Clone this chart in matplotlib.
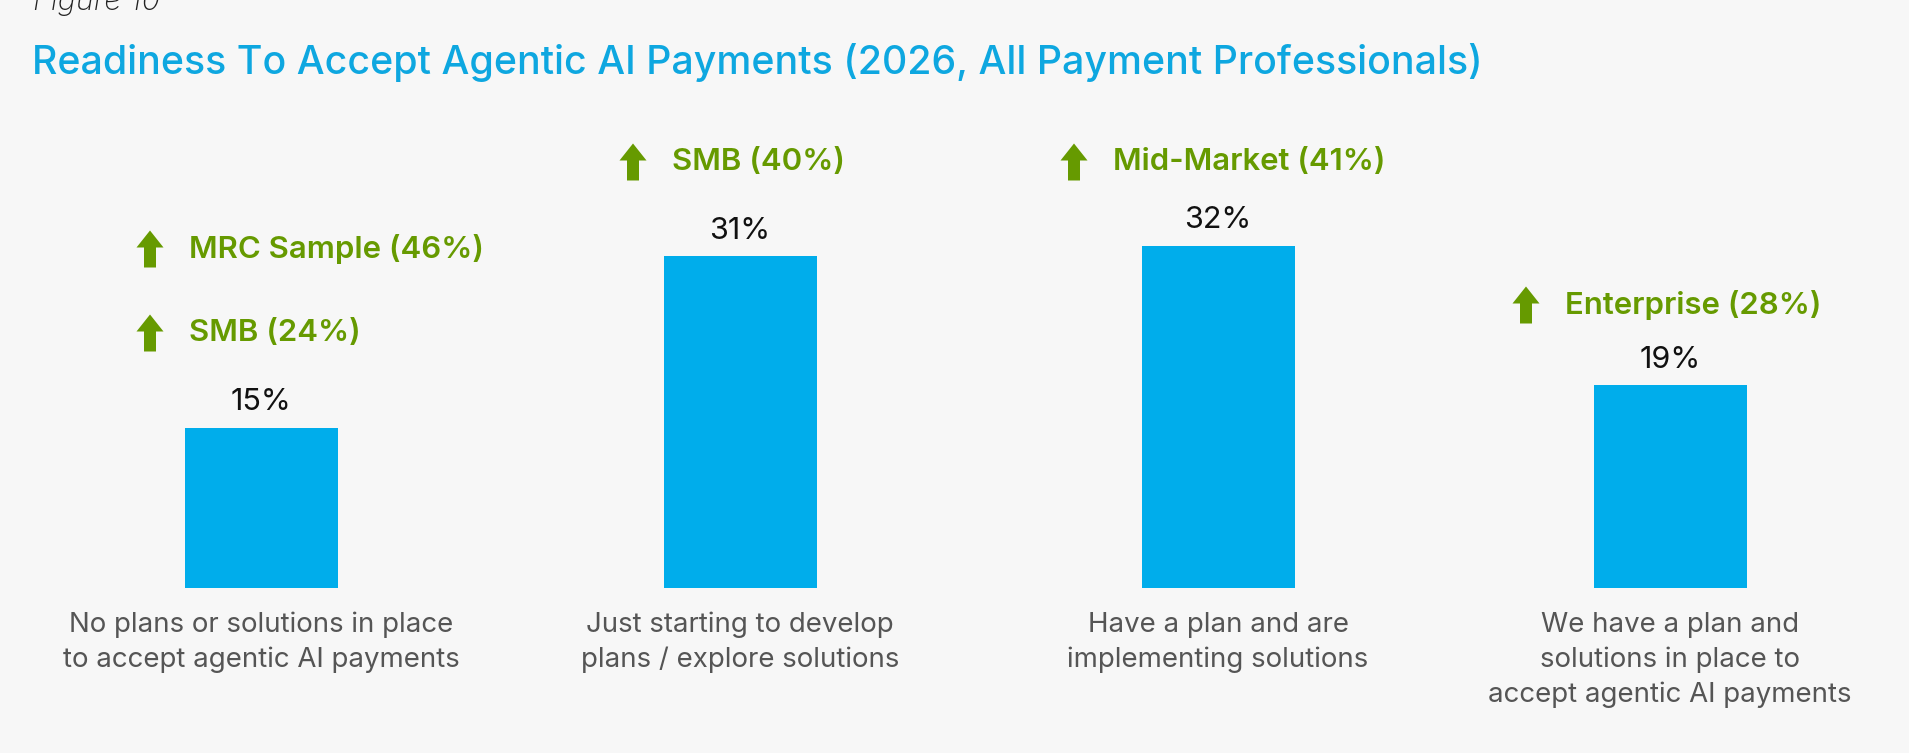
"""
Readiness to accept agentic AI payments, 2026 -- bar chart with
green "up" callouts for the segments that over-index.
"""

import matplotlib
matplotlib.use('Agg')
import matplotlib.pyplot as plt
from matplotlib.patches import Polygon

# ---- data -------------------------------------------------------------
categories = [
    'No plans or solutions in place\nto accept agentic AI payments',
    'Just starting to develop\nplans / explore solutions',
    'Have a plan and are\nimplementing solutions',
    'We have a plan and\nsolutions in place to\naccept agentic AI payments',
]
shares = [15, 31, 32, 19]

callout_segments = ['MRC Sample', 'SMB', 'SMB', 'Mid-Market', 'Enterprise']
callout_shares = [46, 24, 40, 41, 28]

title = 'Readiness To Accept Agentic AI Payments (2026, All Payment Professionals)'
figure_tag = 'Figure 10'

# ---- layout (pixels of a 1909x753 canvas) -----------------------------
W, H = 1909, 753
bar_x = [261, 740, 1218, 1670]
bar_w = 153
# arrow centre x, text centre y for each callout
callout_pos = [(150, 249), (150, 333), (633, 162), (1074, 162), (1526, 305)]

BG = '#f7f7f7'
BLUE = '#00adeb'
TITLE_BLUE = '#0ea7e0'
GREEN = '#669a00'
GREY = '#555555'

plt.rcParams['font.family'] = ['Inter', 'DejaVu Sans']

fig = plt.figure(figsize=(W / 100, H / 100), dpi=100, facecolor=BG)

# bar axes: baseline at y=588px, 10.7 px per percentage point
base_px, px_per_pct = 588, 10.7
ymax = 50
top_px = base_px - ymax * px_per_pct
ax = fig.add_axes([0, (H - base_px) / H, 1, (base_px - top_px) / H])
ax.set_facecolor('none')
bars = ax.bar(bar_x, shares, width=bar_w, color=BLUE, zorder=2)
ax.set_xlim(0, W)
ax.set_ylim(0, ymax)
ax.bar_label(bars, labels=[f'{v}%' for v in shares], padding=8,
             fontsize=22, fontweight='normal', color='#111111')
ax.set_xticks(bar_x, labels=categories)
ax.tick_params(axis='x', length=0, pad=17, labelsize=19.9, labelcolor=GREY)
for lbl in ax.get_xticklabels():
    lbl.set_linespacing(1.42)
ax.set_yticks([])
for s in ax.spines.values():
    s.set_visible(False)

# overlay in pixel coordinates for title / callouts
ov = fig.add_axes([0, 0, 1, 1])
ov.set_xlim(0, W)
ov.set_ylim(H, 0)
ov.axis('off')
ov.patch.set_visible(False)

ov.text(33, 10, figure_tag, fontsize=22, style='italic', fontweight='light',
        color='#222222', va='baseline', ha='left')
ov.text(32, 62, title, fontsize=28.3, fontweight='medium', color=TITLE_BLUE,
        va='center', ha='left')


def up_arrow(cx, cy, w=27, h=37, head=17, shaft=12):
    top = cy - h / 2
    bot = cy + h / 2
    pts = [(cx, top), (cx + w / 2, top + head), (cx + shaft / 2, top + head),
           (cx + shaft / 2, bot), (cx - shaft / 2, bot),
           (cx - shaft / 2, top + head), (cx - w / 2, top + head)]
    ov.add_patch(Polygon(pts, closed=True, color=GREEN, lw=0))


for seg, pct, (ax_x, ty) in zip(callout_segments, callout_shares, callout_pos):
    up_arrow(ax_x, ty)
    ov.text(ax_x + 39, ty, f'{seg} ({pct}%)', fontsize=22.4, fontweight='semibold',
            color=GREEN, va='center', ha='left')

fig.savefig('out.png', dpi=100, facecolor=BG)
